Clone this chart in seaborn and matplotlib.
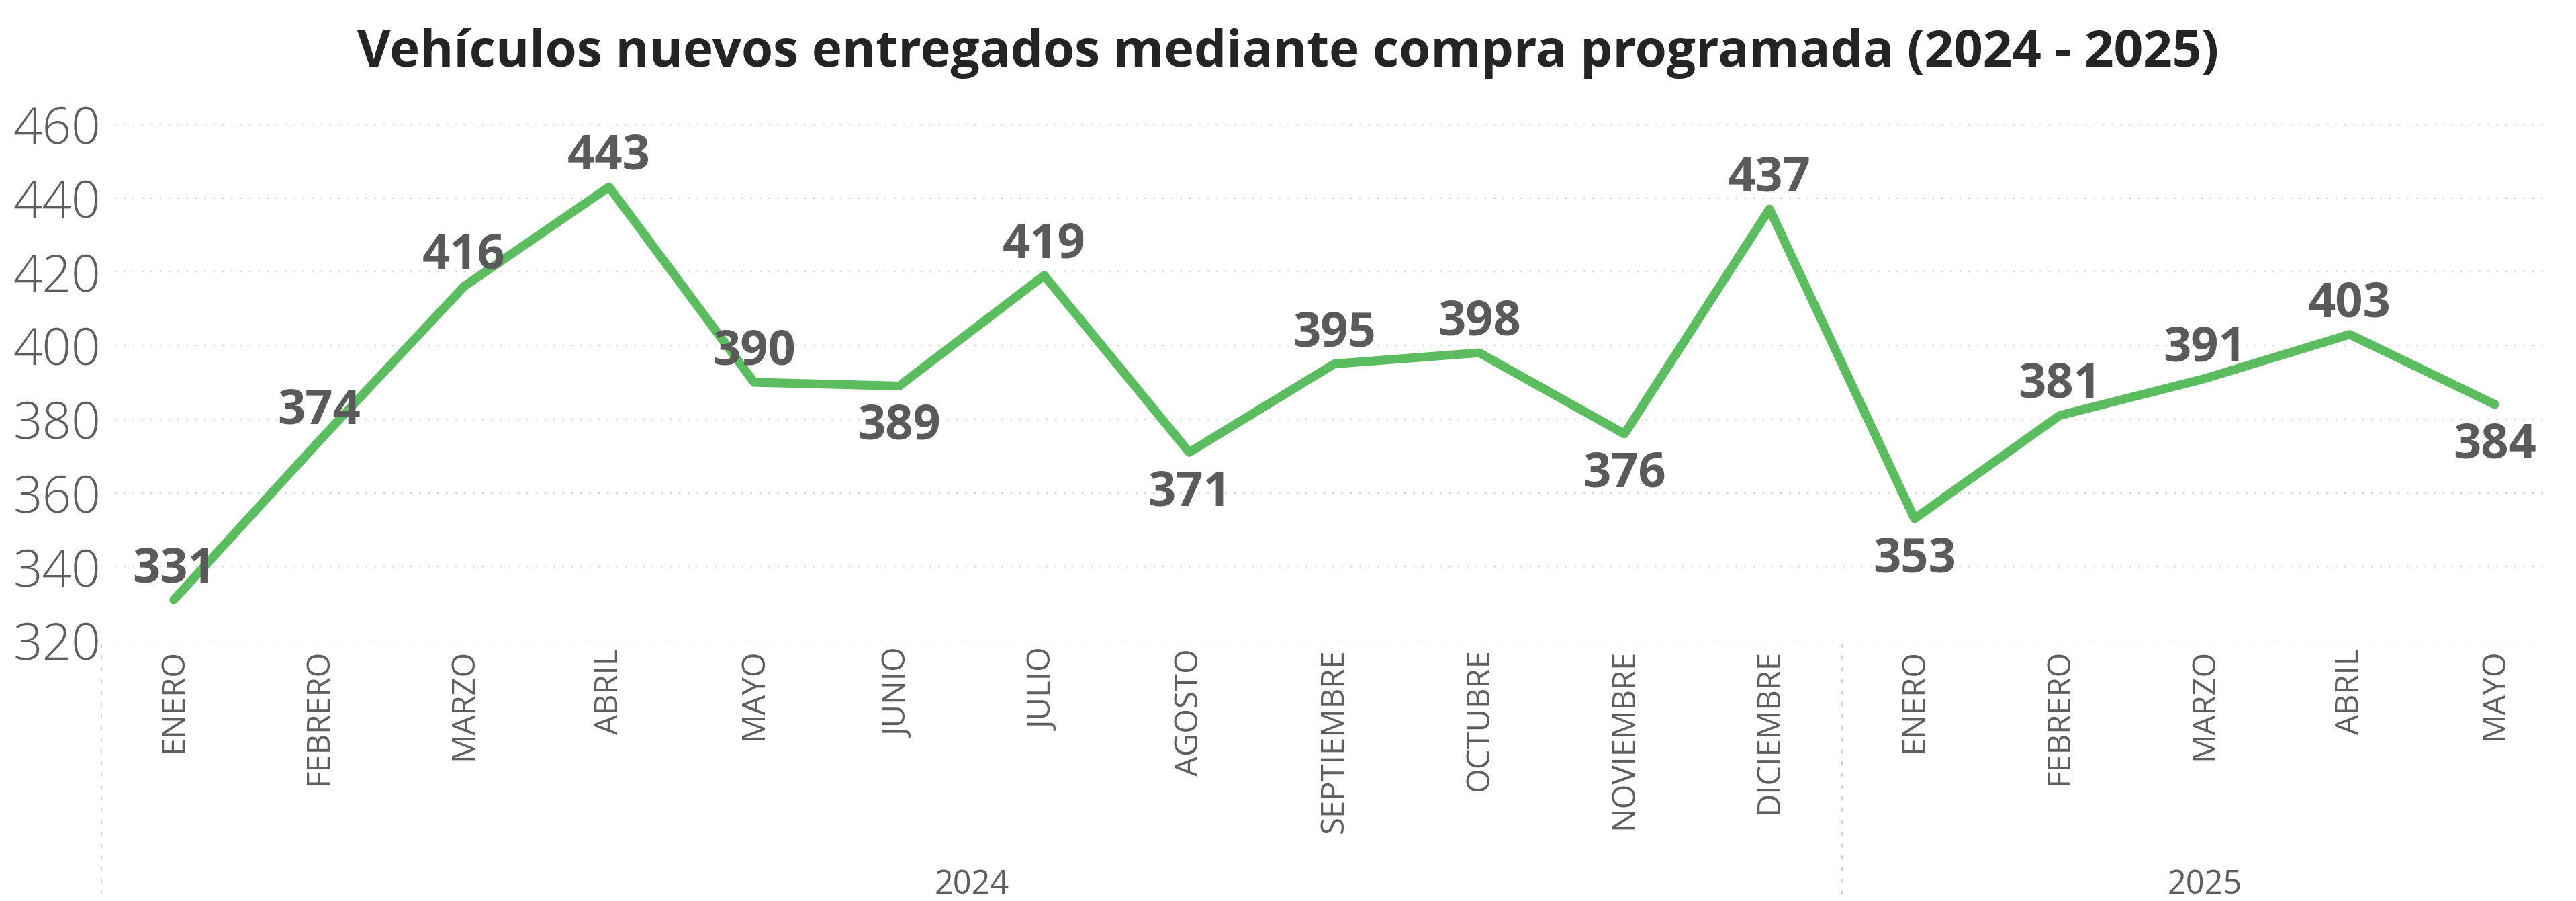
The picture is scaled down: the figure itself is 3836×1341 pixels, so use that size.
import numpy as np
import pandas as pd
import matplotlib
matplotlib.use("Agg")
import matplotlib.pyplot as plt
import matplotlib.transforms as mtransforms
import seaborn as sns

#_____1. DATA_____
MONTHS = ['ENERO', 'FEBRERO', 'MARZO', 'ABRIL', 'MAYO', 'JUNIO', 'JULIO', 'AGOSTO',
          'SEPTIEMBRE', 'OCTUBRE', 'NOVIEMBRE', 'DICIEMBRE',
          'ENERO', 'FEBRERO', 'MARZO', 'ABRIL', 'MAYO']
YEARS = ['2024'] * 12 + ['2025'] * 5
VEHICULOS = [331, 374, 416, 443, 390, 389, 419, 371, 395, 398, 376, 437,
             353, 381, 391, 403, 384]
# where each data label sits relative to its point
LABEL_SIDE = ['up', 'up', 'up', 'up', 'up', 'down', 'up', 'down', 'up', 'up', 'down', 'up',
              'down', 'up', 'up', 'up', 'down']
Y_TICKS = [320, 340, 360, 380, 400, 420, 440, 460]
TITLE = 'Vehículos nuevos entregados mediante compra programada (2024 - 2025)'

df = pd.DataFrame({'pos': np.arange(len(MONTHS)), 'mes': MONTHS,
                   'anio': YEARS, 'valor': VEHICULOS})

#_____2. STYLE_____
sns.set_style("white")
plt.rcParams['font.family'] = ['Open Sans', 'DejaVu Sans']

GREEN = '#5bbd5f'
TICK_GREY = '#605e5c'
LABEL_GREY = '#5a5a5a'
GRID_GREY = '#cfcfcf'

W, H = 3837, 1341
fig = plt.figure(figsize=(W / 100, H / 100), dpi=100)
ax = fig.add_axes([171 / W, 1 - 953 / H, (3796 - 171) / W, (953 - 185) / H])

#_____3. PLOT_____
sns.lineplot(data=df, x='pos', y='valor', ax=ax, color=GREEN, linewidth=9.5,
             solid_capstyle='round', solid_joinstyle='round', legend=False)

ax.set_ylim(Y_TICKS[0], Y_TICKS[-1])
ax.set_xlim(-0.407, len(MONTHS) - 1 + 0.375)
ax.set_yticks(Y_TICKS)
ax.set_yticklabels([str(t) for t in Y_TICKS], fontsize=55, color=TICK_GREY,
                   fontweight='light')
ax.set_xticks(df['pos'])
ax.set_xticklabels(df['mes'], rotation=90, fontsize=34, color=TICK_GREY,
                   fontweight='normal', va='top', ha='center')
ax.tick_params(axis='y', length=0, pad=15)
ax.tick_params(axis='x', length=0, pad=9)
ax.set_xlabel('')
ax.set_ylabel('')

for y in Y_TICKS:
    ax.axhline(y, color=GRID_GREY, linewidth=1.6, linestyle=(0, (1, 5)), zorder=0)
for s in ax.spines.values():
    s.set_visible(False)

# data labels
for x, v, side in zip(df['pos'], df['valor'], LABEL_SIDE):
    dy = 19 if side == 'up' else -57
    ax.annotate(str(v), (x, v), xytext=(0, dy), textcoords='offset points',
                ha='center', va='baseline', fontsize=52, fontweight='bold',
                color=LABEL_GREY, zorder=5)

# year grouping: separators and labels under the month labels
trans = mtransforms.blended_transform_factory(ax.transData, fig.transFigure)
years = df.groupby('anio', sort=False)['pos']
for yr, p in years:
    ax.plot([p.min() - 0.5] * 2, [1 - 958 / H, 0], transform=trans, clip_on=False,
            color=GRID_GREY, linewidth=1.4, linestyle=(0, (3, 6)))
    ax.text(p.mean(), 11 / H, yr, transform=trans, ha='center', va='baseline',
            fontsize=35, color=TICK_GREY, fontweight='normal')

fig.text(0.5, 1 - 99 / H, TITLE, ha='center', va='baseline', fontsize=55,
         fontweight='bold', color='#252423')

fig.savefig('out.png', dpi=100, facecolor='white')
